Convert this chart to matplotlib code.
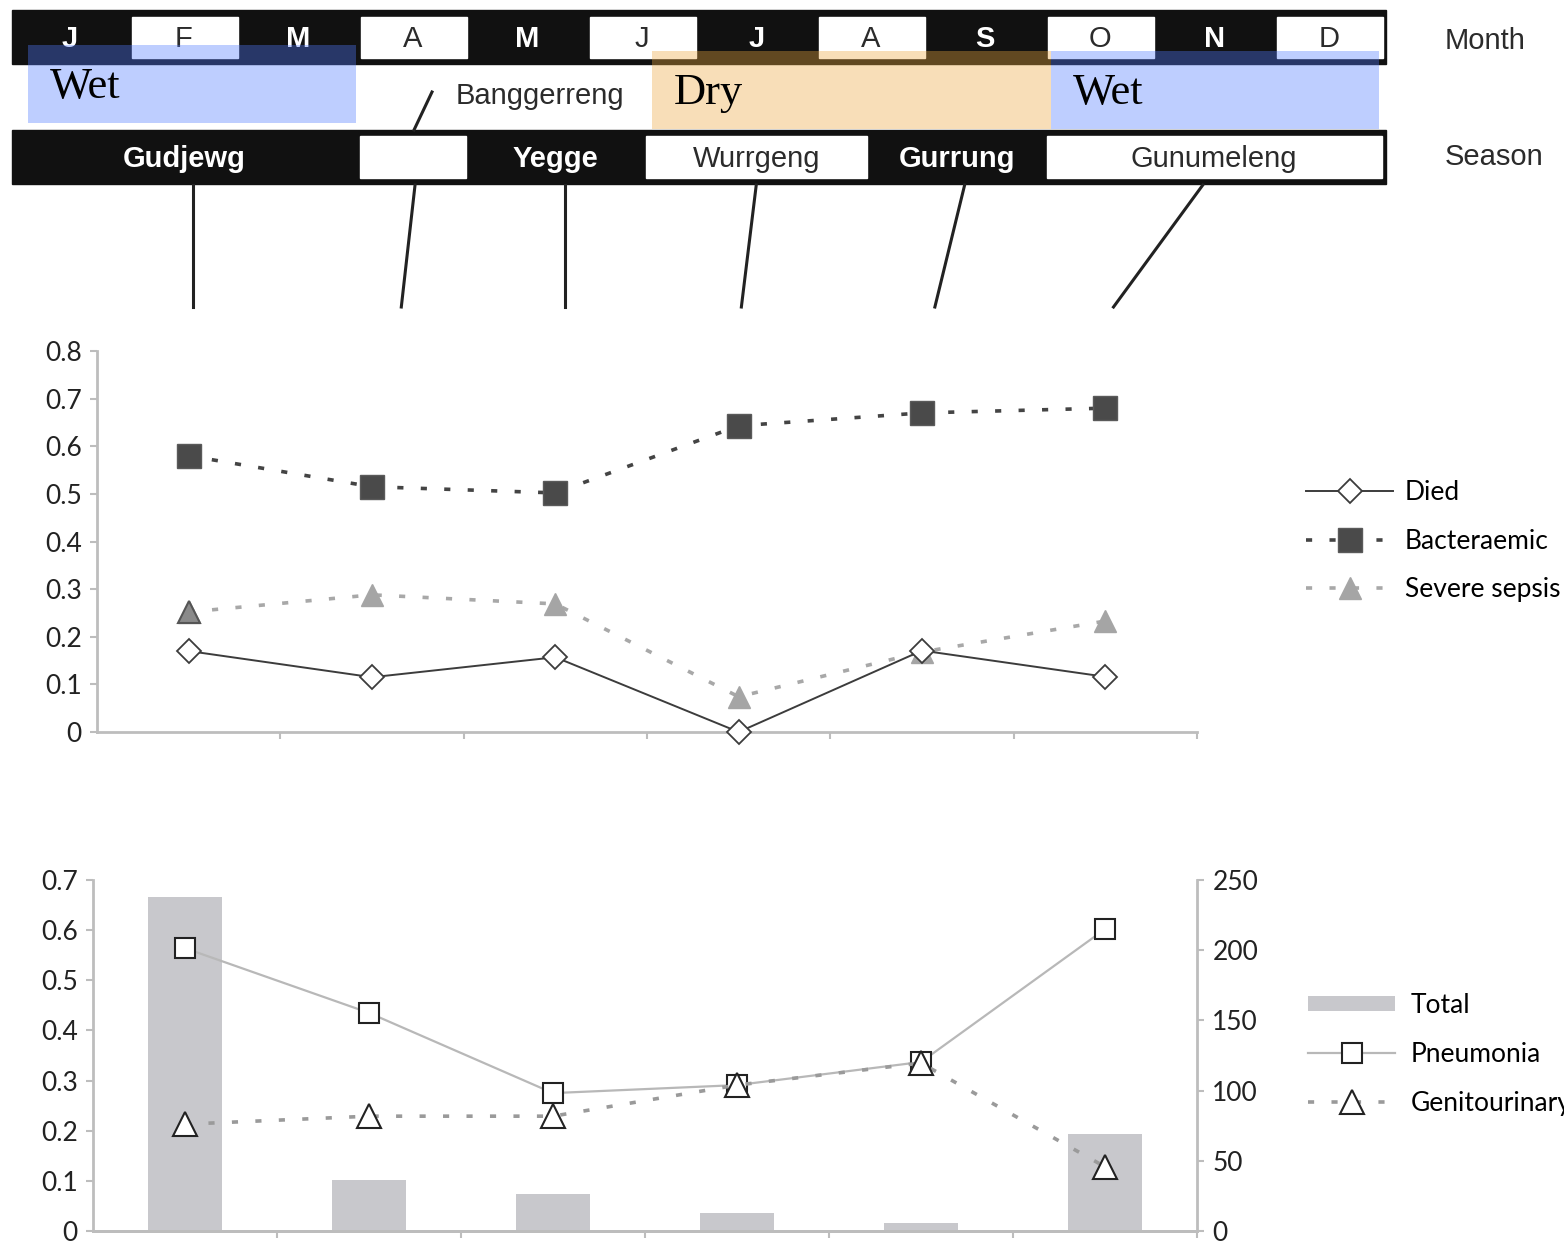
import matplotlib.pyplot as plt
from matplotlib.patches import Rectangle

# calendar strip
months = ['J', 'F', 'M', 'A', 'M', 'J', 'J', 'A', 'S', 'O', 'N', 'D']
seasons = ['Gudjewg', 'Banggerreng', 'Yegge', 'Wurrgeng', 'Gurrung', 'Gunumeleng']
season_start = [0, 3, 4, 5.5, 7.5, 9]
season_end = [3, 4, 5.5, 7.5, 9, 12]
season_dark = [True, False, True, False, True, False]
rain_names = ['Wet', 'Dry', 'Wet']
rain_start = [0.14, 5.59, 9.07]
rain_end = [3.0, 9.07, 11.94]
# where the connector lines leave the season bar / land above the chart (in months)
link_top = [1.58, 3.52, 4.83, 6.5, 8.32, 10.4]
link_bottom = [1.58, 3.40, 4.83, 6.37, 8.06, 9.62]

# top chart
died = [0.17, 0.115, 0.157, 0.0, 0.171, 0.116]
bacteraemic = [0.58, 0.515, 0.502, 0.643, 0.67, 0.68]
severe_sepsis = [0.252, 0.288, 0.269, 0.074, 0.168, 0.233]

# bottom chart
total = [238, 36, 26, 13, 6, 69]
pneumonia = [0.564, 0.435, 0.275, 0.291, 0.337, 0.602]
genitourinary = [0.213, 0.229, 0.229, 0.291, 0.335, 0.128]

W, H = 1564, 1245
fig = plt.figure(figsize=(W / 100, H / 100), dpi=100)
fig.patch.set_facecolor('white')

# ---------- calendar drawn in pixel coordinates ----------
cal = fig.add_axes([0, 0, 1, 1])
cal.set_xlim(0, W)
cal.set_ylim(H, 0)
cal.axis('off')

x0, mw = 12, (1386 - 12) / 12
mx = lambda m: x0 + m * mw
dark_txt = '#2b2b2b'

# month bar
cal.add_patch(Rectangle((x0, 10), 12 * mw, 54, color='#111111', zorder=1))
for i, m in enumerate(months):
    white = i % 2 == 1
    if white:
        cal.add_patch(Rectangle((mx(i) + 5, 17), mw - 8, 41, color='white', zorder=2))
    cal.text(mx(i + 0.5), 39, m, ha='center', va='center', fontsize=21,
             family='Liberation Sans', fontweight='normal' if white else 'bold',
             color=dark_txt if white else 'white', zorder=3)

# season bar
cal.add_patch(Rectangle((x0, 130), 12 * mw, 54, color='#111111', zorder=1))
for name, s, e, dark in zip(seasons, season_start, season_end, season_dark):
    if not dark:
        cal.add_patch(Rectangle((mx(s) + 4, 136), mx(e) - mx(s) - 8, 42,
                                color='white', zorder=2))
    if name == 'Banggerreng':
        cal.text(540, 96, name, ha='center', va='center', fontsize=21,
                 family='Liberation Sans', color=dark_txt, zorder=3)
        cal.plot([432, 414], [92, 130], color='#222222', lw=2.2, zorder=3)
    else:
        cal.text(mx((s + e) / 2), 159, name, ha='center', va='center', fontsize=21,
                 family='Liberation Sans', fontweight='bold' if dark else 'normal',
                 color='white' if dark else dark_txt, zorder=3)

cal.text(1445, 41, 'Month', ha='left', va='center', fontsize=21,
         family='Liberation Sans', color=dark_txt)
cal.text(1445, 157, 'Season', ha='left', va='center', fontsize=21,
         family='Liberation Sans', color=dark_txt)

# wet / dry overlays
for i, (name, s, e) in enumerate(zip(rain_names, rain_start, rain_end)):
    top = 45 if i == 0 else 51
    col = '#eda83f' if name == 'Dry' else '#507aff'
    cal.add_patch(Rectangle((mx(s), top), mx(e) - mx(s), 78, color=col,
                            alpha=0.37, lw=0, zorder=4))
    cal.text(mx(s) + 22, top + 42, name, ha='left', va='center', fontsize=32,
             family='Liberation Serif', color='black', zorder=5)

# connector lines
for t, b in zip(link_top, link_bottom):
    cal.plot([mx(t), mx(b)], [185, 307], color='#222222', lw=2.2, zorder=3)

# ---------- common styling ----------
axis_col = '#bdbdbd'
tick_font = dict(family='Lato', size=19)
fmt = lambda v: '0' if v == 0 else f'{v:.1f}'
cats = list(range(6))

# ---------- top chart ----------
ax1 = fig.add_axes([97 / W, (H - 732) / H, 1100 / W, 381 / H])
ax1.set_xlim(-0.5, 5.5)
ax1.set_ylim(0, 0.8)
ax1.plot(cats, bacteraemic, color='#444444', lw=2.6, dashes=(1.7, 4.8),
         marker='s', ms=17, mfc='#4a4a4a', mec='#5a5a5a', label='Bacteraemic', zorder=3)
ax1.plot(cats, severe_sepsis, color='#a8a8a8', lw=2.6, dashes=(1.7, 4.8),
         marker='^', ms=16, mfc='#a5a5a5', mec='#a5a5a5', label='Severe sepsis', zorder=3)
ax1.plot(cats[:1], severe_sepsis[:1], ls='none', marker='^', ms=16,
         mfc='#8a8a8a', mec='#555555', mew=1.5, zorder=4)
ax1.plot(cats, died, color='#3c3c3c', lw=1.4, marker='D', ms=12, clip_on=False,
         mfc='white', mec='#3c3c3c', mew=1.3, label='Died', zorder=5)

ax1.set_yticks([i / 10 for i in range(9)])
ax1.set_yticklabels([fmt(i / 10) for i in range(9)], fontdict=tick_font, color='#222222')
ax1.set_xticks([c + 0.5 for c in cats])
ax1.set_xticklabels([])
for side in ['top', 'right']:
    ax1.spines[side].set_visible(False)
for side in ['left', 'bottom']:
    ax1.spines[side].set_color(axis_col)
    ax1.spines[side].set_linewidth(2)
ax1.tick_params(axis='both', color=axis_col, width=1.5, length=5, pad=6)
ax1.patch.set_visible(False)

h, l = ax1.get_legend_handles_labels()
order = [2, 0, 1]
fig.legend([h[i] for i in order], [l[i] for i in order], loc='upper left',
           bbox_to_anchor=(1306 / W, (H - 480) / H), frameon=False, prop=tick_font,
           handlelength=3.3, handletextpad=0.45, labelspacing=0.9,
           borderpad=0, borderaxespad=0)

# ---------- bottom chart ----------
ax2 = fig.add_axes([93 / W, 14 / H, 1104 / W, 351 / H])
axr = ax2.twinx()
axr.bar(cats, total, width=0.4, color='#c8c8cc', label='Total', zorder=1)
axr.set_ylim(0, 250)
ax2.set_zorder(axr.get_zorder() + 1)
ax2.patch.set_visible(False)

ax2.plot(cats, pneumonia, color='#b8b8b8', lw=1.6, marker='s', ms=14,
         mfc='white', mec='#222222', mew=1.5, label='Pneumonia', zorder=3)
ax2.plot(cats, genitourinary, color='#9a9a9a', lw=2.6, dashes=(1.7, 4.8),
         marker='^', ms=17, mfc='white', mec='#222222', mew=1.5,
         label='Genitourinary', zorder=4)
ax2.set_xlim(-0.5, 5.5)
ax2.set_ylim(0, 0.7)

ax2.set_yticks([i / 10 for i in range(8)])
ax2.set_yticklabels([fmt(i / 10) for i in range(8)], fontdict=tick_font, color='#222222')
axr.set_yticks(range(0, 251, 50))
axr.set_yticklabels([str(v) for v in range(0, 251, 50)], fontdict=tick_font, color='#222222')
ax2.set_xticks([c + 0.5 for c in cats])
ax2.set_xticklabels([])
for a in (ax2, axr):
    a.spines['top'].set_visible(False)
    for side in ['left', 'right', 'bottom']:
        a.spines[side].set_color(axis_col)
        a.spines[side].set_linewidth(2)
    a.tick_params(axis='both', color=axis_col, width=1.5, length=5, pad=6)
ax2.spines['right'].set_visible(False)
axr.spines['left'].set_visible(False)

hb, lb = axr.get_legend_handles_labels()
hl, ll = ax2.get_legend_handles_labels()
fig.legend(hb + hl, lb + ll, loc='upper left',
           bbox_to_anchor=(1308 / W, (H - 993) / H), frameon=False, prop=tick_font,
           handlelength=3.3, handleheight=0.5, handletextpad=0.6, labelspacing=0.9,
           borderpad=0, borderaxespad=0)

fig.savefig('out.png', dpi=100, facecolor='white')
